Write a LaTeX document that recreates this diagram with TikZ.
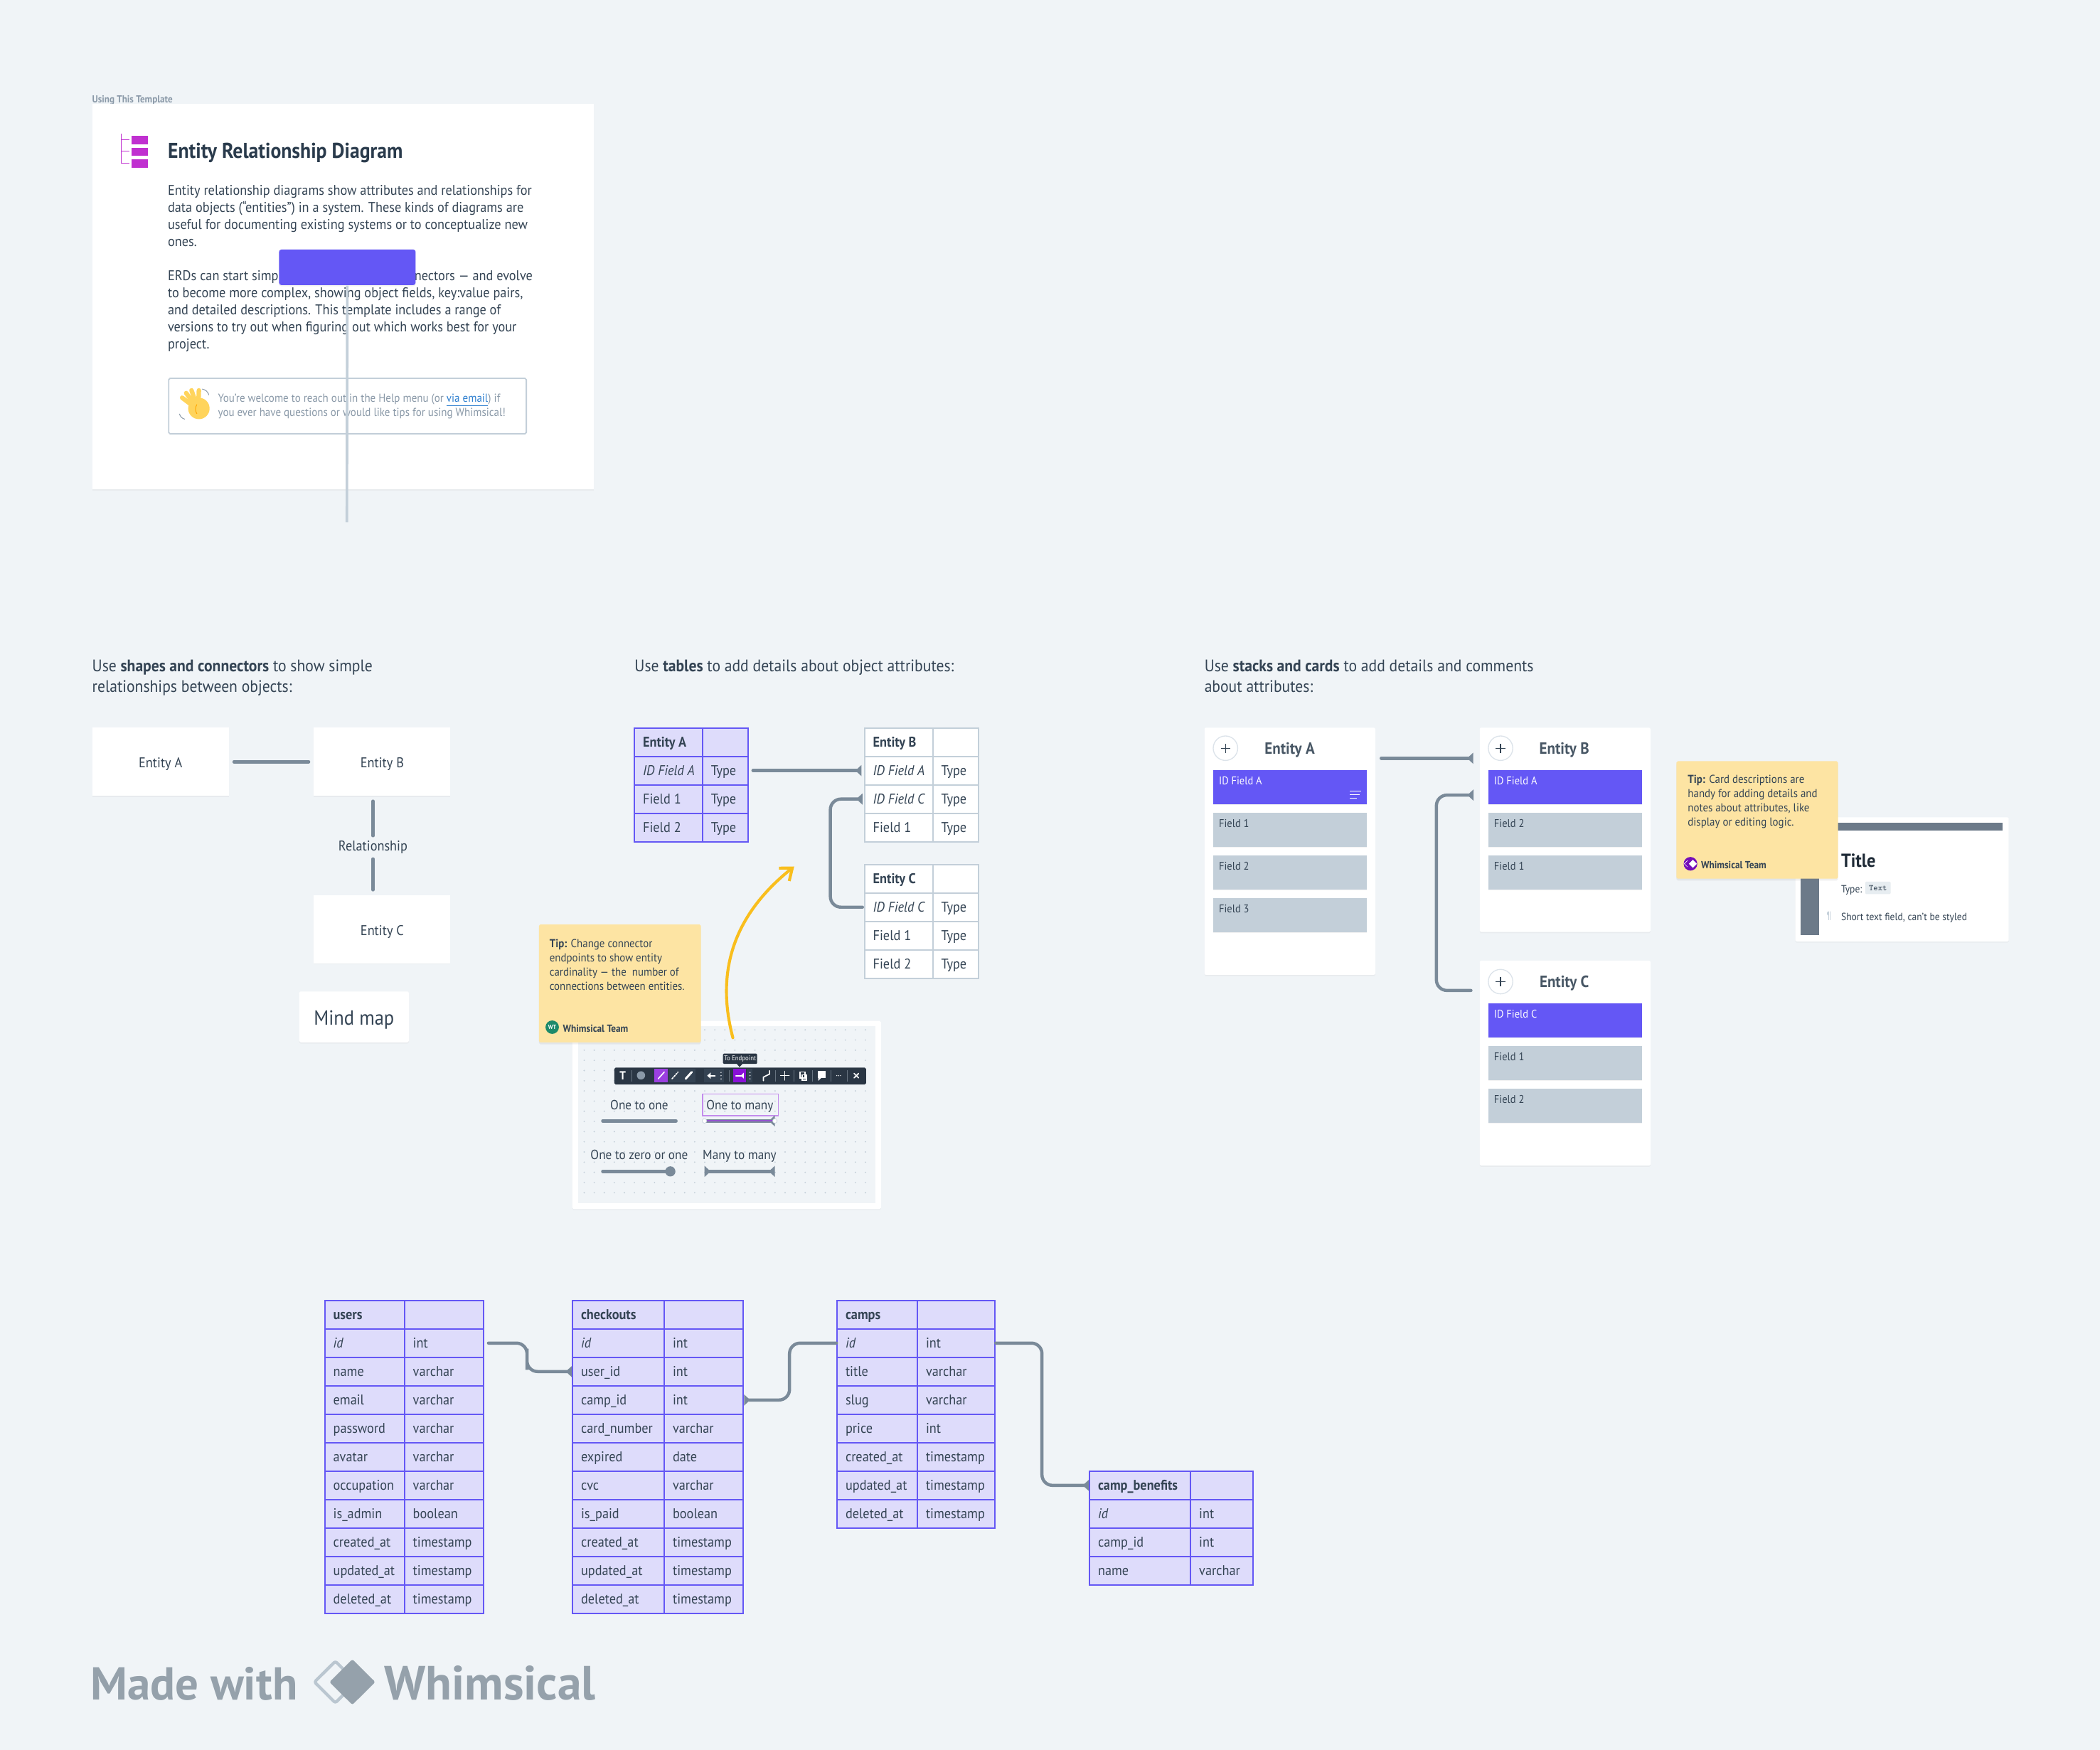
\documentclass[tikz,border=0pt]{standalone}
\usepackage{fontspec}
\setmainfont{PT Sans}[FakeStretch=0.92]
\newfontfamily\footfont{PT Sans}
\usetikzlibrary{arrows.meta,shadows}
\definecolor{pagebg}{HTML}{F0F4F7}
\definecolor{ink}{HTML}{2A3B4C}
\definecolor{softink}{HTML}{344454}
\definecolor{greyink}{HTML}{8A99A8}
\definecolor{linegrey}{HTML}{7A8A99}
\definecolor{paleline}{HTML}{C3CFD9}
\definecolor{idpurple}{HTML}{6457F5}
\definecolor{lilac}{HTML}{DEDCFB}
\definecolor{stickyy}{HTML}{FDE4A3}
\definecolor{barblue}{HTML}{6C7A89}
\definecolor{magent}{HTML}{C030D0}
\definecolor{toolbar}{HTML}{2A3644}
\definecolor{toolbtn}{HTML}{344252}
\definecolor{violet}{HTML}{8A10D8}
\definecolor{lightviolet}{HTML}{9B3FE0}
\definecolor{footgrey}{HTML}{95A1AB}
\definecolor{amber}{HTML}{F9BE1D}
\definecolor{handy}{HTML}{FFD45C}
\definecolor{linkblue}{HTML}{2F80D0}
\definecolor{teamgreen}{HTML}{1D8A6A}
\newcommand{\fsnote}{\fontsize{4.9pt}{6.1pt}\selectfont}
\newcommand{\fscell}{\fontsize{6pt}{7pt}\selectfont}
\newcommand{\fsbody}{\fontsize{6pt}{7.23pt}\selectfont}
\newcommand{\fshead}{\fontsize{7.1pt}{8pt}\selectfont}
\tikzset{
  card/.style={fill=white,drop shadow={shadow xshift=0pt,shadow yshift=-.5pt,opacity=.07}},
  boxtext/.style={font=\fscell,text=softink,text height=5pt,text depth=0pt},
  sticky/.style={fill=stickyy,rounded corners=.6pt,drop shadow={shadow xshift=0pt,shadow yshift=-.8pt,opacity=.12}},
  lab/.style={inner sep=0,anchor=mid west,text=softink,font=\fscell},
  conn/.style={draw=linegrey,line width=1.35pt,rounded corners=4.5pt,line cap=round},
  manytip/.style={-{Triangle[reversed,length=2.6pt,width=4.6pt]}},
  purplecell/.style={draw=idpurple,fill=lilac,line width=.6pt},
  whitecell/.style={draw=paleline,fill=white,line width=.6pt},
  idblock/.style={fill=idpurple,drop shadow={shadow xshift=0pt,shadow yshift=-.4pt,opacity=.1}},
  fieldblock/.style={fill=paleline,drop shadow={shadow xshift=0pt,shadow yshift=-.4pt,opacity=.1}},
  plusbtn/.style={circle,fill=white,draw=paleline!45!pagebg,line width=.4pt,minimum size=10.4pt,inner sep=0},
  ico/.style={white,line width=.5pt,line cap=round},
}
% box given by its corners
\newcommand{\panel}[7][]{\node[#1,anchor=north west,minimum width={((#4)-(#2))*.2mm},minimum height={((#5)-(#3))*.2mm},inner sep=0] (#6) at (#2,#3) {#7};}
% name, left, split, right, top, row height, style, rows
\newcommand{\dbtable}[8]{
  \foreach \a/\b [count=\i from 0] in {#8}{
    \panel[#7]{#2}{#5+\i*#6}{#3}{#5+\i*#6+#6}{#1-\i}{}
    \panel[#7]{#3}{#5+\i*#6}{#4}{#5+\i*#6+#6}{#1-r\i}{}
    \node[lab] (#1-tl\i) at ([xshift=1.3mm,yshift=.2mm]#1-\i.west) {\a};
    \node[lab] (#1-tr\i) at ([xshift=1.3mm,yshift=.2mm]#1-r\i.west) {\b};
  }
}
% name, left, right, top, blocks
\newcommand{\cardstack}[5]{
  \foreach \t [count=\i from 0] in {#5}{
    \ifnum\i=0 \def\bk{idblock}\def\tc{white}\else\def\bk{fieldblock}\def\tc{softink}\fi
    \panel[\bk]{#2}{#4+\i*31.85}{#3}{#4+\i*31.85+25.4}{#1-\i}{}
    \node[lab,text=\tc,font=\fontsize{4.75pt}{6pt}\selectfont] (#1-t\i) at (#2+4.2,#4+\i*31.85+7) {\t};
  }
}
\begin{document}
\begin{tikzpicture}[x=.2mm,y=-.2mm]
\useasboundingbox (0,0) rectangle (1568,1306.75);
\fill[pagebg] (0,0) rectangle (1568,1306.75);

% intro card
\node[lab,text=greyink,font=\bfseries\fontsize{4.3pt}{5pt}\selectfont] (tpl) at (68.5,72.2) {Using This Template};
\panel[card]{68.5}{77}{443}{365}{intro}{}
\draw[magent,line width=.35pt] (90.6,99.6)--(90.6,122)--(96.8,122) (90.6,104.5)--(96.8,104.5) (90.6,113)--(96.8,113);
\foreach \y in {101.5,110.2,118.9}\fill[magent] (98,\y) rectangle (110.7,\y+6.3);
\node[lab,text=ink,font=\bfseries\fontsize{9.1pt}{10pt}\selectfont] (title) at (125,113.6) {Entity Relationship Diagram};
\node[inner sep=0,anchor=north west,align=left,font=\fsbody,text=softink] (para1) at (125,138) {Entity relationship diagrams show attributes and relationships for\\data objects (“entities”) in a system. These kinds of diagrams are\\useful for documenting existing systems or to conceptualize new\\ones.};
\node[lab,font=\fsbody] (para2a) at (125,205.2) {ERDs can start simp};
\node[lab,font=\fsbody,anchor=mid east] (para2b) at (398,205.2) {nectors — and evolve};
\node[inner sep=0,anchor=north west,align=left,font=\fsbody,text=softink] (para2) at (125,214.4) {to become more complex, showing object fields, key:value pairs,\\and detailed descriptions. This template includes a range of\\versions to try out when figuring out which works best for your\\project.};
\panel[fill=white,draw=paleline,line width=.55pt,rounded corners=.6pt]{125.5}{282}{392.5}{323.5}{help}{}
% waving hand
\foreach \a/\b in {136/297,139/293.5,143/291.5,148.5/291.5}\draw[line width=1.9pt,line cap=round,color=handy] (148,306)--(\a,\b);
\fill[handy] (148.5,305) circle (8);
\draw[orange!70!yellow,line width=.3pt] (147,302) to[bend right=30] (147,309);
\draw[greyink,line width=.3pt] (151,290.5) to[bend left=30] (156,295) (134,309) to[bend right=30] (138,313);
\node[lab,text=greyink,font=\fontsize{4.93pt}{6pt}\selectfont] (help1) at (162.5,295.9) {You’re welcome to reach out in the Help menu (or \textcolor{linkblue}{\underline{via email}}) if};
\node[lab,text=greyink,font=\fontsize{4.93pt}{6pt}\selectfont] (help2) at (162.5,306.6) {you ever have questions or would like tips for using Whimsical!};
\panel[fill=idpurple,rounded corners=1pt,drop shadow={shadow xshift=0pt,shadow yshift=-.5pt,opacity=.1}]{208}{186}{310}{212.5}{ghost}{}
\coordinate (ghostend) at (259,390);
\draw[paleline,line width=1.1pt] (ghost)--(ghostend);

% section headings
\node[lab,font=\fshead] (hd1a) at (68.5,497) {Use \textbf{shapes and connectors} to show simple};
\node[lab,font=\fshead] (hd1b) at (68.5,512.5) {relationships between objects:};
\node[lab,font=\fshead] (hd2) at (473.5,497) {Use \textbf{tables} to add details about object attributes:};
\node[lab,font=\fshead] (hd3a) at (899,497) {Use \textbf{stacks and cards} to add details and comments};
\node[lab,font=\fshead] (hd3b) at (899,512.5) {about attributes:};

% plain shapes
\panel[card,boxtext]{68.5}{543}{170.5}{594}{entA}{Entity A}
\panel[card,boxtext]{234}{543}{336}{594}{entB}{Entity B}
\panel[card,boxtext]{234}{668}{336}{719}{entC}{Entity C}
\node[lab,anchor=mid] (rel) at (278.5,631) {Relationship};
\panel[card,rounded corners=.6pt,font=\fontsize{8.7pt}{9pt}\selectfont,text=softink,text height=8.5pt,text depth=1.7pt]{223}{740}{305}{778}{mind}{Mind map}
\draw[conn,shorten <=2pt,shorten >=2pt] (entA)--(entB);
\draw[conn,shorten <=2pt,shorten >=2pt] (rel.north)--(rel.north |- entB.south);
\draw[conn,shorten <=2pt,shorten >=2pt] (rel.south)--(rel.south |- entC.north);

% tables
\dbtable{tabA}{473.2}{524}{558}{543}{21.25}{purplecell}{\textbf{Entity A}/,\textit{ID Field A}/Type,Field 1/Type,Field 2/Type}
\dbtable{tabB}{645}{696}{730}{543}{21.25}{whitecell}{\textbf{Entity B}/,\textit{ID Field A}/Type,\textit{ID Field C}/Type,Field 1/Type}
\dbtable{tabC}{645}{696}{730}{645}{21.25}{whitecell}{\textbf{Entity C}/,\textit{ID Field C}/Type,Field 1/Type,Field 2/Type}
\draw[conn,manytip,shorten <=1.8pt,shorten >=1pt] (tabA-r1.east)--(tabB-1.west);
\coordinate (bendC) at (620,640);
\draw[conn,manytip,shorten <=.6pt,shorten >=.6pt] (tabC-1.west)-|(bendC)|-(tabB-2.west);

% cardinality screenshot
\panel[fill=white,rounded corners=.6pt,drop shadow={shadow xshift=0pt,shadow yshift=-.4pt,opacity=.07}]{427}{762}{657.5}{902.5}{shot}{}
\panel[fill=pagebg]{431.5}{766}{653.3}{898}{shotin}{}
\foreach \i in {0,...,28}\foreach \j in {0,...,16}
  \fill[paleline] (436.2+\i*7.5,769+\j*7.6) circle (.55);
\panel[sticky]{402}{690}{523}{778}{tip1}{}
\node[inner sep=0,anchor=north west,align=left,font=\fsnote,text=softink] (tip1txt) at (410,700.9) {\textbf{Tip:} Change connector\\endpoints to show entity\\cardinality — the~~number of\\connections between entities.};
\node[circle,fill=teamgreen,minimum size=5.7pt,inner sep=0,text=white,font=\bfseries\fontsize{2.6pt}{3pt}\selectfont] (wt) at (412.3,767) {WT};
\node[lab,font=\bfseries\fontsize{4.37pt}{5pt}\selectfont] (wtname) at (420,766.2) {Whimsical Team};
% toolbar
\panel[fill=toolbar,rounded corners=.6pt]{458.3}{796.8}{646.3}{809.5}{bar}{}
\panel[fill=toolbar,rounded corners=.4pt,text=white,font=\fontsize{2.9pt}{3pt}\selectfont]{539.5}{786.4}{565}{794.1}{hint}{To Endpoint}
\fill[toolbar] (549.8,794)--(554.7,794)--(552.2,796.8)--cycle;
\node[inner sep=0,text=white,font=\bfseries\fontsize{5pt}{5pt}\selectfont] (barT) at (465,803) {T};
\fill[greyink] (478.6,803) circle (3.1);
\fill[lightviolet] (488.7,798.3) rectangle (498.7,808);
\fill[toolbtn] (499,798.3) rectangle (519.2,808);
\draw[ico] (491.5,805.5)--(496,800.5);
\draw[ico,dash pattern=on .7pt off .5pt] (501.8,805.5)--(506.3,800.5);
\draw[ico,line width=.9pt] (512,805.5)--(516.5,800.5);
\fill[toolbtn] (525.8,798.3) rectangle (540.4,808);
\draw[ico,line width=.7pt,-{Triangle[length=1.5pt,width=2.6pt]}] (533.8,803.2)--(528,803.2);
\fill[toolbtn] (557.4,798.3) rectangle (562,808);
\fill[violet] (547.5,798.3) rectangle (557.2,808);
\draw[ico,line width=.7pt,-{Triangle[reversed,length=1.2pt,width=2.4pt]}] (549.5,803.2)--(555.3,803.2);
\foreach \x in {538.4,560}\foreach \y in {800.8,803.2,805.6}\fill[white!80!paleline] (\x,\y) circle (.45);
\draw[ico] (570,807)--(570,804.3)--(574.6,802)--(574.6,799.5);
\draw[ico] (586,800)--(586,806.5) (582.8,803.2)--(589.2,803.2);
\draw[ico] (597.5,800.5) rectangle (601,804.8) (599,802.5) rectangle (602.2,806.5);
\fill[white] (610.4,799.8) rectangle (616.6,804.8);
\fill[white] (611,804.5)--(611,807)--(613.6,804.5)--cycle;
\foreach \x in {624.8,626.2,627.6}\fill[white] (\x,803.2) circle (.4);
\draw[ico] (637.7,801.5)--(641.1,804.9) (637.7,804.9)--(641.1,801.5);
\foreach \x in {471.8,544.3,579,593,606.8,620.5,632.6}\draw[paleline!40!toolbar,line width=.2pt] (\x,799)--(\x,807.5);
% cardinality samples
\tikzset{samp/.style={inner sep=0,text=softink,anchor=mid,font=\fontsize{5.65pt}{6pt}\selectfont}}
\node[samp] (s1) at (477.3,824) {One to one};
\node[samp] (s2) at (552.4,824) {One to many};
\panel[draw=lightviolet!60!white,line width=.45pt]{524.1}{816.6}{580.7}{832.6}{s2box}{}
\node[samp] (s3) at (477.3,861.5) {One to zero or one};
\node[samp] (s4) at (552.2,861.5) {Many to many};
\coordinate (s1a) at (450,837); \coordinate (s1b) at (504.8,837);
\coordinate (s2a) at (526,837); \coordinate (s2b) at (578.6,837);
\coordinate (s3a) at (450,874.7); \coordinate (s3b) at (500.5,874.7);
\coordinate (s4a) at (526,874.7); \coordinate (s4b) at (578.6,874.7);
\draw[conn] (s1a)--(s1b);
\draw[conn,manytip] (s2a)--(s2b);
\draw[lightviolet!75!linegrey,line width=.6pt] (s2a)--(s2b);
\foreach \p in {s2a,s2b}\fill[white,draw=paleline,line width=.2pt] (\p) circle (1.7);
\draw[conn] (s3a)--(s3b);
\fill[linegrey] (s3b) circle (3.8);
\draw[conn,{Triangle[reversed,length=2.6pt,width=4.6pt]}-{Triangle[reversed,length=2.6pt,width=4.6pt]}] (s4a)--(s4b);
% yellow arrow
\coordinate (ysta) at (547.2,774.9);
\coordinate (yend) at (593,647);
\draw[color=amber,line width=1.25pt,line cap=round,-{Straight Barb[length=4.5pt,width=7pt]}] (ysta) .. controls (534,725) and (548,683) .. (yend);

% stacks and cards
\panel[card,rounded corners=.5pt]{899}{543}{1026.5}{727.6}{cardA}{}
\panel[card,rounded corners=.5pt]{1104.5}{543}{1232}{695.6}{cardB}{}
\panel[card,rounded corners=.5pt]{1104.5}{717}{1232}{870}{cardC}{}
\tikzset{cardhd/.style={inner sep=0,anchor=mid,text=softink!90!white,font=\bfseries\fontsize{6.9pt}{8pt}\selectfont}}
\node[plusbtn] (plusA) at (915,558.7) {};
\node[cardhd] (hdA) at (963,558.7) {Entity A};
\node[plusbtn] (plusB) at (1120.4,558.7) {};
\node[cardhd] (hdB) at (1168,558.7) {Entity B};
\node[plusbtn] (plusC) at (1120.4,733) {};
\node[cardhd] (hdC) at (1168,733) {Entity C};
\foreach \n in {plusA,plusB,plusC}
  \draw[softink,line width=.4pt] ([xshift=-.7mm]\n.center)--([xshift=.7mm]\n.center) ([yshift=-.7mm]\n.center)--([yshift=.7mm]\n.center);
\cardstack{stA}{905.6}{1020.3}{574.8}{ID Field A,Field 1,Field 2,Field 3}
\cardstack{stB}{1111}{1225.7}{574.8}{ID Field A,Field 2,Field 1}
\cardstack{stC}{1111}{1225.7}{748.9}{ID Field C,Field 1,Field 2}
\draw[white,line width=.35pt] (1008,590.6)--(1016.5,590.6) (1008,593.3)--(1015,593.3) (1008,596)--(1013,596);
\coordinate (cAout) at (1031.3,566.2);
\coordinate (cBin) at (1100,566.2);
\coordinate (cCout) at (1098.3,739.6);
\coordinate (cBin2) at (1100.2,593.7);
\draw[conn,manytip] (cAout)--(cBin);
\draw[conn,manytip] (cCout)-|(1072.5,660)|-(cBin2);

% description card
\panel[card,rounded corners=.5pt]{1340.2}{610}{1499.5}{702.7}{desc}{}
\fill[barblue] (1344.5,614.2) rectangle (1495.3,620);
\fill[barblue] (1344.5,614.2) rectangle (1358,698.3);
\node[lab,text=ink!70!black,font=\bfseries\fontsize{8pt}{9pt}\selectfont] (dTitle) at (1374.4,643) {Title};
\node[lab,font=\fontsize{4.45pt}{5pt}\selectfont] (dType) at (1374.4,662) {Type:};
\panel[fill=pagebg!80!paleline,rounded corners=.4pt,font=\ttfamily\fontsize{3.6pt}{5pt}\selectfont,text=softink]{1392.4}{658}{1411.3}{667.3}{dChip}{Text}
\node[lab,font=\fontsize{4.45pt}{5pt}\selectfont] (dShort) at (1374.4,683.2) {Short text field, can’t be styled};
\node[inner sep=0,text=paleline,font=\fontsize{4.45pt}{5pt}\selectfont] (dPil) at (1365.7,684) {¶};
\panel[sticky]{1251.4}{568}{1372}{655.8}{tip2}{}
\node[inner sep=0,anchor=north west,align=left,font=\fsnote,text=softink] (tip2txt) at (1259.9,578.3) {\textbf{Tip:} Card descriptions are\\handy for adding details and\\notes about attributes, like\\display or editing logic.};
\fill[violet!85!black] (1262.2,645) circle (5.1);
\fill[white] (1264,642)--(1267,645)--(1264,648)--(1261,645)--cycle;
\draw[white,line width=.2pt] (1260,642.6)--(1257.6,645)--(1260,647.4);
\node[lab,font=\bfseries\fontsize{4.37pt}{5pt}\selectfont] (teamname) at (1269.8,644.2) {Whimsical Team};

% database example
\dbtable{users}{242}{301.5}{360.5}{970.5}{21.25}{purplecell}{\textbf{users}/,\textit{id}/int,name/varchar,email/varchar,password/varchar,avatar/varchar,occupation/varchar,is\_admin/boolean,created\_at/timestamp,updated\_at/timestamp,deleted\_at/timestamp}
\dbtable{chk}{427}{495.5}{554.5}{970.5}{21.25}{purplecell}{\textbf{checkouts}/,\textit{id}/int,user\_id/int,camp\_id/int,card\_number/varchar,expired/date,cvc/varchar,is\_paid/boolean,created\_at/timestamp,updated\_at/timestamp,deleted\_at/timestamp}
\dbtable{camps}{624.5}{684.5}{742.5}{970.5}{21.25}{purplecell}{\textbf{camps}/,\textit{id}/int,title/varchar,slug/varchar,price/int,created\_at/timestamp,updated\_at/timestamp,deleted\_at/timestamp}
\dbtable{ben}{813}{888.5}{935}{1098}{21.25}{purplecell}{\textbf{camp\_benefits}/,\textit{id}/int,camp\_id/int,name/varchar}
\coordinate (jog1) at (393.5,1015);
\coordinate (jog2) at (589.5,1025);
\coordinate (jog3) at (778,1055);
\draw[conn,manytip,shorten <=1.8pt] (users-r1.east)-|(jog1)|-(chk-2.west);
\draw[conn,{Triangle[reversed,length=2.6pt,width=4.6pt]}-] (chk-r3.east)-|(jog2)|-(camps-1.west);
\draw[conn,manytip] (camps-r1.east)-|(jog3)|-(ben-0.west);

% footer
\node[lab,text=footgrey,font=\footfont\bfseries\fontsize{19.6pt}{22pt}\selectfont] (made) at (67.5,1265) {Made with};
\draw[paleline!80!footgrey,line width=1.3pt,rounded corners=.8pt,line join=round] (250.4,1240.5)--(234.8,1256)--(250.4,1271.5)--(266,1256)--cycle;
\fill[footgrey,rounded corners=.8pt] (263.1,1239)--(246,1256)--(263.1,1273)--(280.2,1256)--cycle;
\node[lab,text=footgrey,font=\footfont\bfseries\fontsize{20.4pt}{22pt}\selectfont] (whim) at (286.8,1265) {Whimsical};
\end{tikzpicture}
\end{document}
